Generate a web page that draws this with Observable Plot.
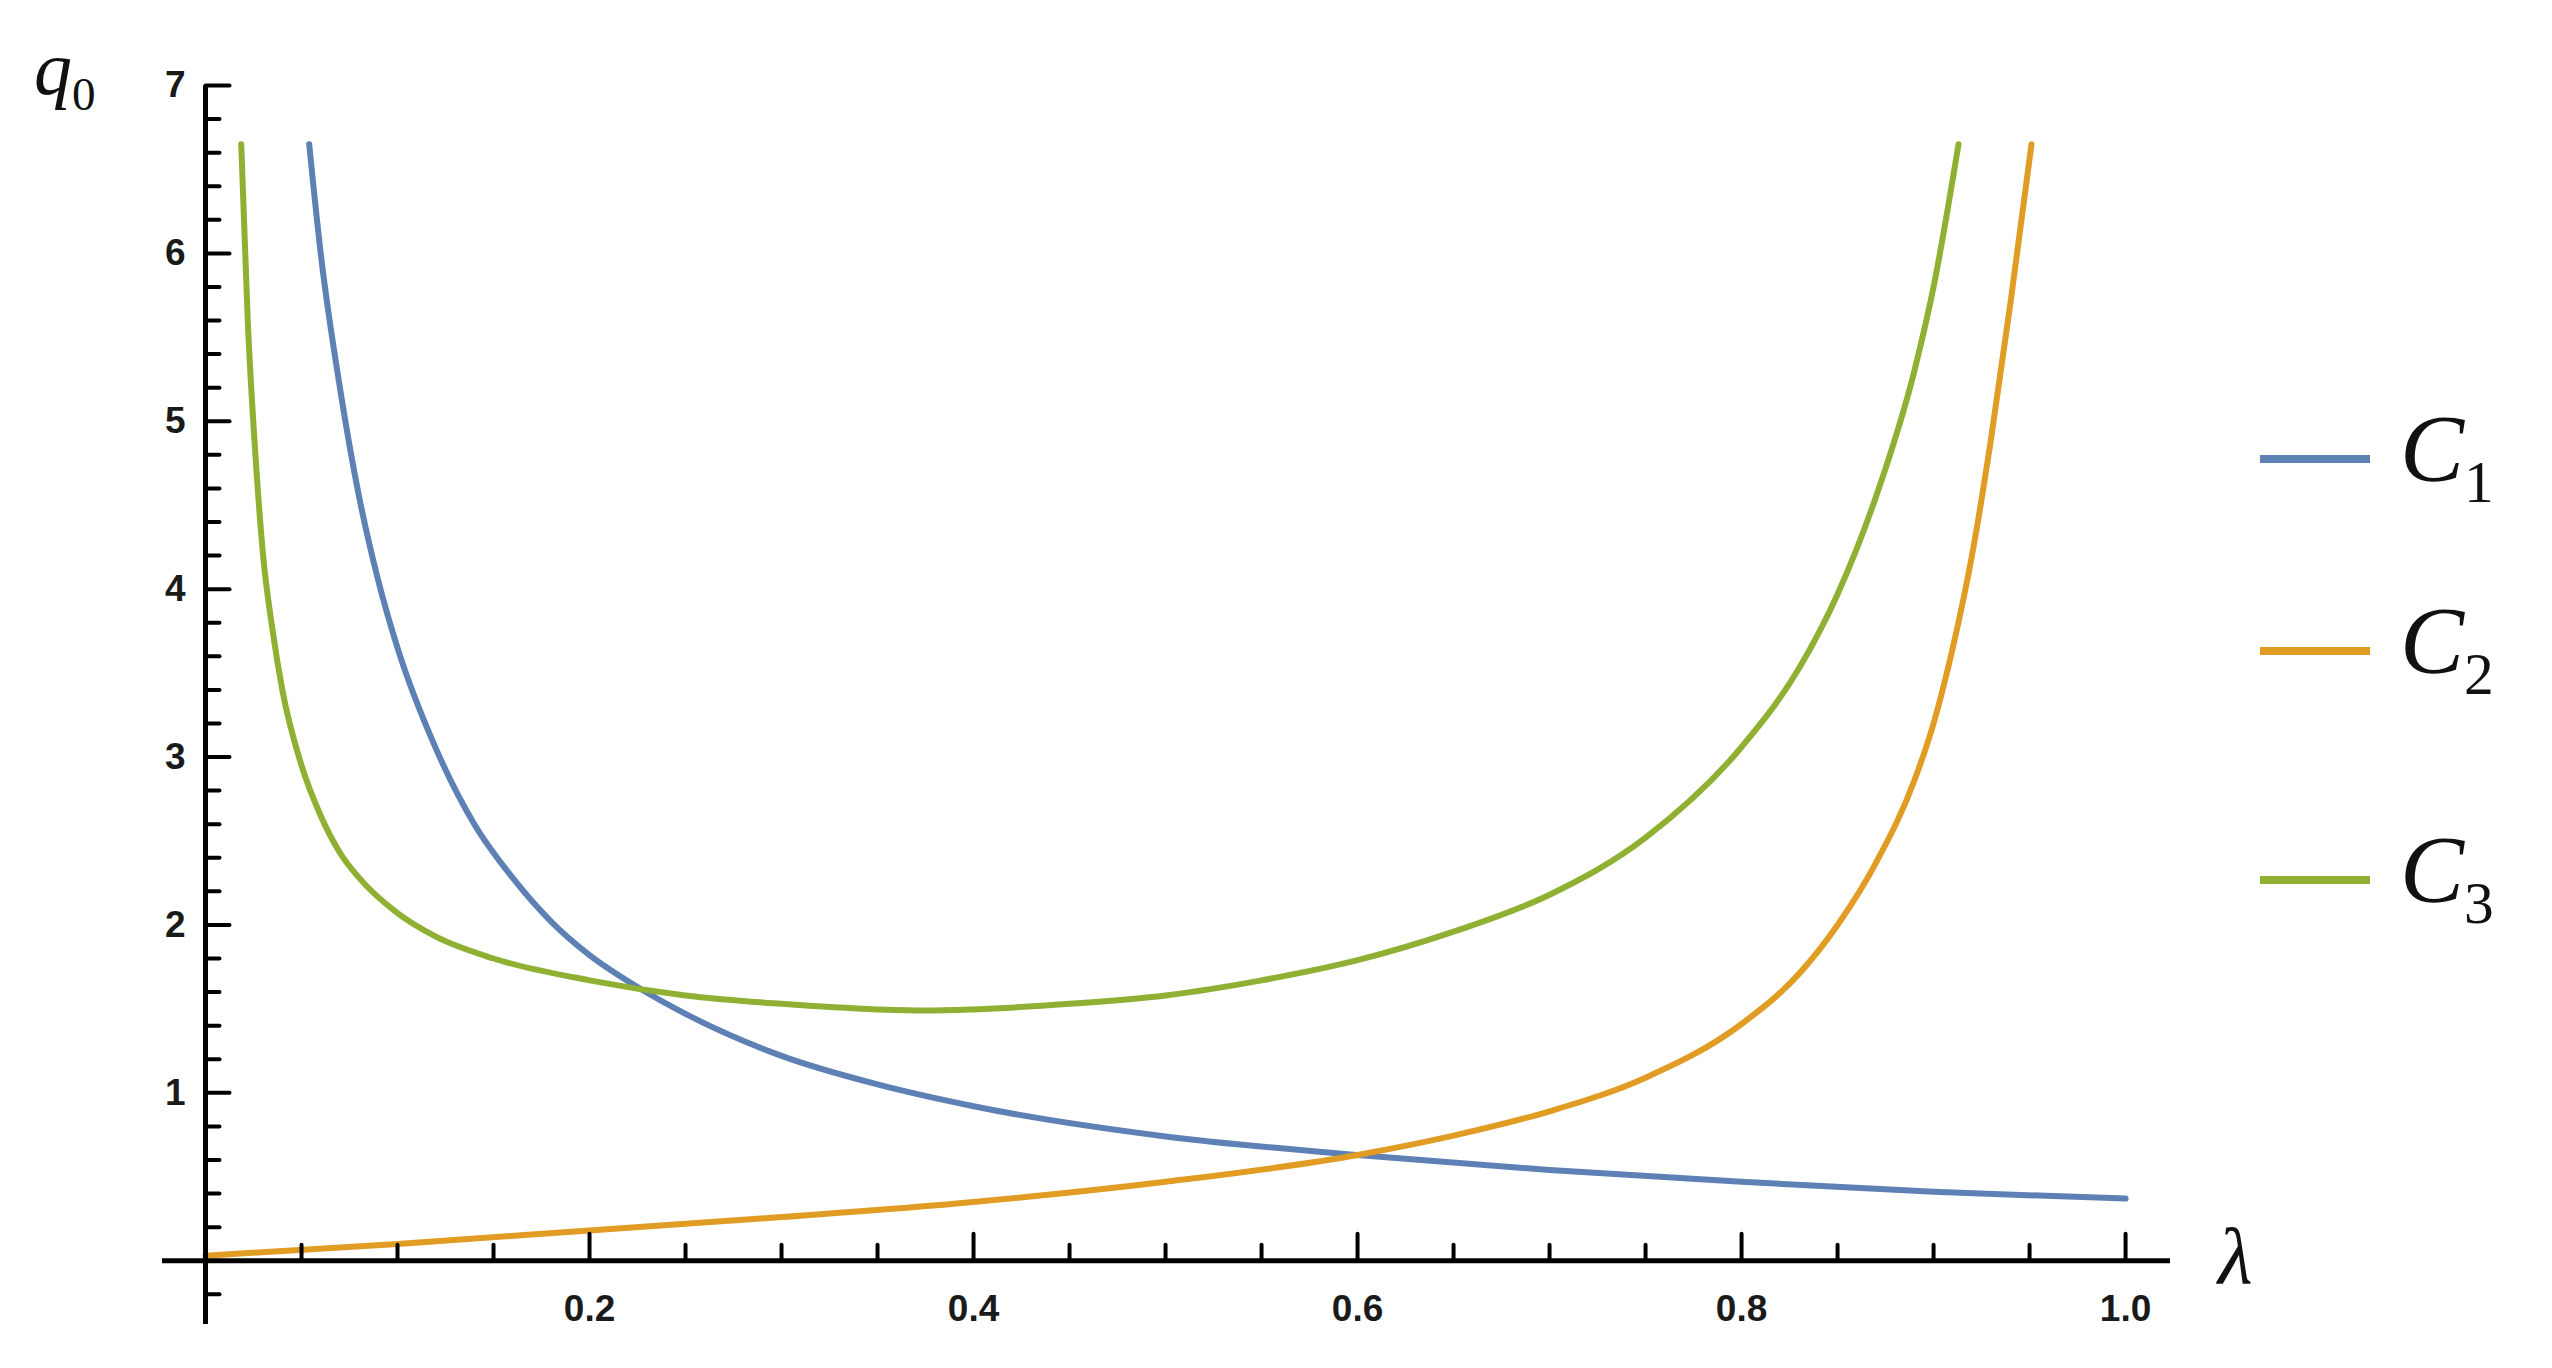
<!DOCTYPE html>
<html>
<head>
<meta charset="utf-8">
<script src="https://cdn.jsdelivr.net/npm/d3@7"></script>
<script src="https://cdn.jsdelivr.net/npm/@observablehq/plot@0.6"></script>
<style>
  html, body { margin: 0; padding: 0; background: #fff; }
  #wrap { position: relative; width: 2552px; height: 1368px; overflow: hidden; background: #fff; }
  #wrap svg { position: absolute; left: 0; top: 0; }
  .lab { position: absolute; font-family: "Liberation Serif", "Times New Roman", serif; font-style: italic; color: #111; line-height: 1; white-space: nowrap; }
  .lab sub { font-style: normal; font-size: 0.62em; vertical-align: -0.35em; }
  .leg-line { position: absolute; height: 8px; width: 110px; }
</style>
</head>
<body>
<div id="wrap"></div>
<script>
// ---- data ----
const seriesNames = ["C1", "C2", "C3"];
const seriesColors = ["#5E81B5", "#E19C24", "#8FB032"];

const c1Lambda = [0.054, 0.06, 0.07, 0.08, 0.09, 0.10, 0.12, 0.14, 0.16, 0.18, 0.20, 0.225, 0.25, 0.30, 0.35, 0.40, 0.50, 0.60, 0.70, 0.80, 0.90, 1.00];
const c1Q      = [6.65, 6.00, 5.20, 4.55, 4.05, 3.65, 3.05, 2.60, 2.28, 2.02, 1.82, 1.63, 1.47, 1.22, 1.05, 0.92, 0.74, 0.63, 0.54, 0.47, 0.41, 0.37];

const c2Lambda = [0.00, 0.10, 0.20, 0.30, 0.40, 0.50, 0.60, 0.65, 0.70, 0.75, 0.80, 0.83, 0.85, 0.87, 0.89, 0.90, 0.91, 0.92, 0.93, 0.94, 0.951];
const c2Q      = [0.03, 0.10, 0.18, 0.26, 0.35, 0.47, 0.63, 0.745, 0.89, 1.09, 1.41, 1.71, 2.00, 2.37, 2.86, 3.20, 3.65, 4.20, 4.90, 5.70, 6.65];

const c3Lambda = [0.0186, 0.022, 0.026, 0.03, 0.035, 0.04, 0.05, 0.06, 0.07, 0.08, 0.10, 0.12, 0.15, 0.20, 0.25, 0.30, 0.35, 0.375, 0.40, 0.45, 0.50, 0.55, 0.60, 0.65, 0.70, 0.75, 0.80, 0.83, 0.85, 0.87, 0.89, 0.90, 0.913];
const c3Q      = [6.65, 5.60, 4.80, 4.20, 3.75, 3.40, 2.95, 2.65, 2.43, 2.28, 2.07, 1.93, 1.80, 1.67, 1.58, 1.53, 1.497, 1.49, 1.497, 1.53, 1.58, 1.67, 1.79, 1.96, 2.18, 2.52, 3.06, 3.53, 3.97, 4.55, 5.30, 5.80, 6.65];

const xTickLabels = ["0.2", "0.4", "0.6", "0.8", "1.0"];
const yTickLabels = ["1", "2", "3", "4", "5", "6", "7"];
const xMajor = [0.2, 0.4, 0.6, 0.8, 1.0];
const yMajor = [1, 2, 3, 4, 5, 6, 7];
const xMinor = d3.range(1, 20).map(i => i * 0.05).filter(v => Math.abs(v / 0.2 - Math.round(v / 0.2)) > 1e-6);
const yMinor = d3.range(-1, 36).map(i => i * 0.2).filter(v => Math.abs(v - Math.round(v)) > 1e-6);

// ---- build rows ----
const lambdas = [c1Lambda, c2Lambda, c3Lambda];
const qs = [c1Q, c2Q, c3Q];
const rows = [];
seriesNames.forEach((s, i) => lambdas[i].forEach((l, j) => rows.push({series: s, lambda: l, q: qs[i][j]})));

const tickShape = {draw(ctx, l) { ctx.moveTo(0, 0); ctx.lineTo(0, -l); }};
const fontFam = "Liberation Sans, Arial, sans-serif";

const plot = Plot.plot({
  width: 2552,
  height: 1368,
  marginLeft: 162,
  marginRight: 382,
  marginTop: 85,
  marginBottom: 44,
  x: {domain: [-0.0224, 1.0234], axis: null},
  y: {domain: [-0.38, 7], axis: null},
  color: {domain: seriesNames, range: seriesColors},
  style: {background: "white", overflow: "visible"},
  marks: [
    Plot.line(rows, {x: "lambda", y: "q", z: "series", stroke: "series", strokeWidth: 6, curve: "monotone-x"}),
    Plot.ruleY([0], {stroke: "black", strokeWidth: 5}),
    Plot.ruleX([0], {stroke: "black", strokeWidth: 5}),
    Plot.vector(xMajor, {x: d => d, y: 0, length: 27, anchor: "start", shape: tickShape, stroke: "black", strokeWidth: 4}),
    Plot.vector(xMinor, {x: d => d, y: 0, length: 16, anchor: "start", shape: tickShape, stroke: "black", strokeWidth: 4}),
    Plot.vector(yMajor, {x: 0, y: d => d, length: 24, rotate: 90, anchor: "start", shape: tickShape, stroke: "black", strokeWidth: 4}),
    Plot.vector(yMinor, {x: 0, y: d => d, length: 14, rotate: 90, anchor: "start", shape: tickShape, stroke: "black", strokeWidth: 4}),
    Plot.text(xMajor, {x: d => d, y: 0, text: (d, i) => xTickLabels[i], dy: 48, fontSize: 37, fontWeight: "bold", fontFamily: fontFam, fill: "#1a1a1a"}),
    Plot.text(yMajor, {x: 0, y: d => d, text: (d, i) => yTickLabels[i], dx: -20, textAnchor: "end", fontSize: 37, fontWeight: "bold", fontFamily: fontFam, fill: "#1a1a1a"})
  ]
});

const wrap = document.getElementById("wrap");
wrap.appendChild(plot);

function addLabel(html, left, top, size) {
  const d = document.createElement("div");
  d.className = "lab";
  d.innerHTML = html;
  d.style.left = left + "px";
  d.style.top = top + "px";
  d.style.fontSize = size + "px";
  wrap.appendChild(d);
  return d;
}
// axis labels
addLabel("q<sub>0</sub>", 34, 30, 76);
addLabel("λ", 2218, 1216, 80);

// legend
const legendY = [459, 651, 880];
seriesNames.forEach((s, i) => {
  const ln = document.createElement("div");
  ln.className = "leg-line";
  ln.style.left = "2260px";
  ln.style.top = (legendY[i] - 4) + "px";
  ln.style.background = seriesColors[i];
  wrap.appendChild(ln);
  addLabel("C<sub>" + s.slice(1) + "</sub>", 2400, legendY[i] - 58, 96);
});
</script>
</body>
</html>
